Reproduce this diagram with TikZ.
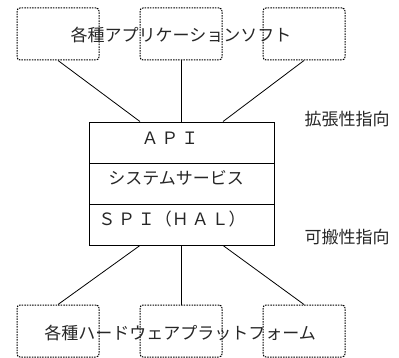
\documentclass[tikz,border=0pt]{standalone}
\usepackage{fontspec}
\newfontfamily\jp{Noto Sans CJK JP}
\begin{document}
\begin{tikzpicture}[x=1pt,y=-1pt,
  dotbox/.style={draw, dash pattern=on 1.5pt off 1.1pt, rounded corners=3pt, minimum width=82pt, minimum height=52pt, inner sep=0pt, line width=1pt},
  layer/.style={draw, minimum width=185pt, inner sep=0pt, line width=0.9pt},
  conn/.style={line width=0.8pt},
  txt/.style={font=\jp\fontsize{17}{19}\selectfont, inner sep=0pt, text=black!85}
]
\useasboundingbox (0,0) rectangle (399,358);
% top boxes
\node[dotbox] (t1) at (58,34) {};
\node[dotbox] (t2) at (181,34) {};
\node[dotbox] (t3) at (304,34) {};
\node[txt] (ttext) at (181,35) {各種アプリケーションソフト};
% stack
\node[layer, minimum height=41pt] (api) at (181.5,142.5) {};
\node[layer, minimum height=41pt] (sys) at (181.5,183.5) {};
\node[layer, minimum height=41pt] (spi) at (181.5,224.5) {};
\node[txt] (apit) at (170,138) {Ａ\,Ｐ\,Ｉ};
\node[txt] (syst) at (176,178) {システムサービス};
\node[txt] (spit) at (172,219) {Ｓ\,Ｐ\,Ｉ（Ｈ\,Ａ\,Ｌ）};
% bottom boxes
\node[dotbox] (b1) at (58,331) {};
\node[dotbox] (b2) at (181,331) {};
\node[dotbox] (b3) at (304,331) {};
\node[txt] (btext) at (180,333) {各種ハードウェアプラットフォーム};
% side labels
\node[txt] (ext) at (347,119) {拡張性指向};
\node[txt] (port) at (347,237) {可搬性指向};
% connection points
\coordinate (ua) at ([xshift=-41.5pt]api.north);
\coordinate (ub) at ([xshift=41.5pt]api.north);
\coordinate (la) at ([xshift=-41.5pt]spi.south);
\coordinate (lb) at ([xshift=41.5pt]spi.south);
\draw[conn] (t1.south) -- (ua);
\draw[conn] (t2.south) -- (api.north -| t2.south);
\draw[conn] (t3.south) -- (ub);
\draw[conn] (b1.north) -- (la);
\draw[conn] (b2.north) -- (spi.south -| b2.north);
\draw[conn] (b3.north) -- (lb);
\end{tikzpicture}
\end{document}
